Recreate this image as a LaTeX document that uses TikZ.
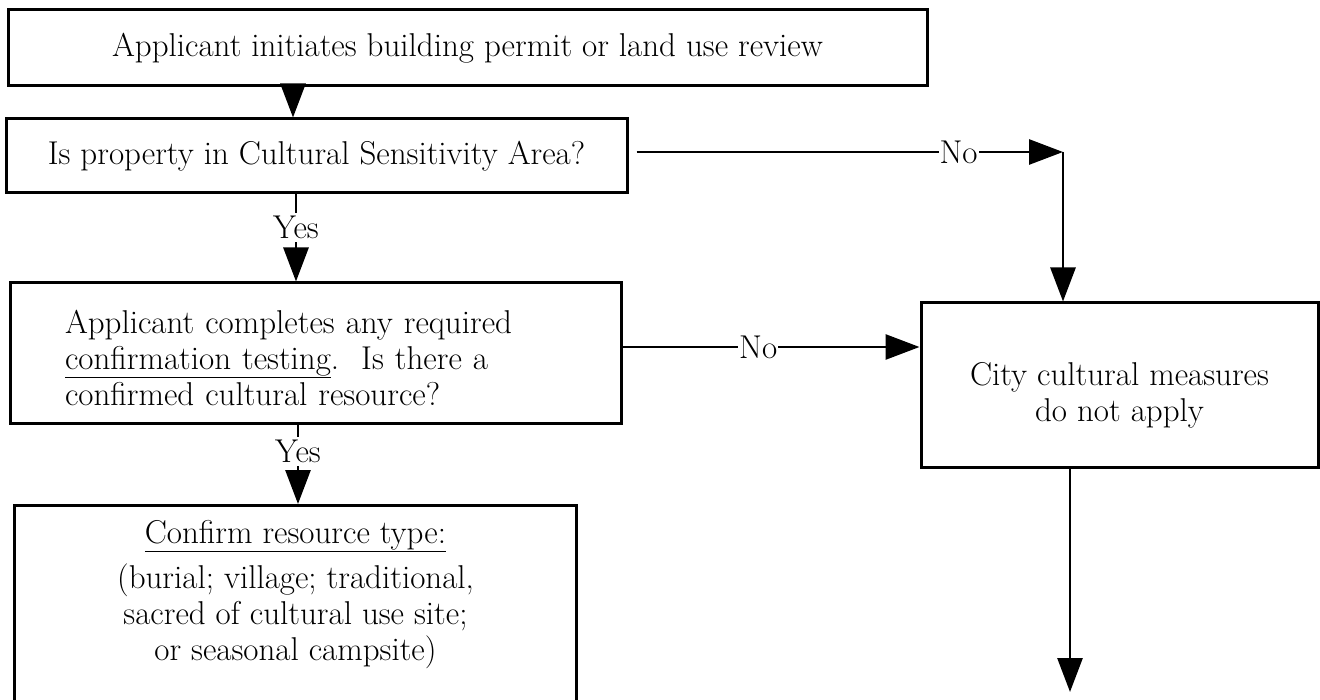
\documentclass[tikz,border=0pt]{standalone}
\usetikzlibrary{arrows.meta}
\newcommand\myfs{\fontsize{33}{36}\selectfont}
\begin{document}
\begin{tikzpicture}[x=1pt,y=1pt,
  box/.style={draw, line width=3pt, inner sep=0pt, font=\myfs},
  conn/.style={line width=2.8pt, -{Triangle[length=34pt,width=25pt]}},
  lab/.style={fill=white, inner sep=3pt, font=\myfs}]
\useasboundingbox (0,0) rectangle (1320,-700);
\clip (0,0) rectangle (1320,-700);
% boxes
\node[box, minimum width=919, minimum height=76] (b1) at (467.5,-48)
  {Applicant initiates building permit or land use review};
\node[box, minimum width=621, minimum height=74] (b2) at (316.5,-156)
  {Is property in Cultural Sensitivity Area?};
\node[box, minimum width=611, minimum height=141, text width=501, align=left, inner xsep=55pt] (b3) at (315.5,-353.5)
  {\mbox{\rule{0pt}{32pt}Applicant completes any required}\\ \mbox{\underline{confirmation testing}.\ \ Is there a}\\ \mbox{confirmed cultural resource?}};
\node[box, minimum width=397, minimum height=164, align=center] (b4) at (1119.5,-385)
  {\rule{0pt}{44pt}City cultural measures\\ do not apply};
\node[box, minimum width=562, minimum height=260, anchor=north west] (b5) at (13,-504) {};
\node[font=\myfs, align=center, anchor=north, inner sep=3pt] (t5) at ([yshift=-13pt]b5.north)
  {\underline{Confirm resource type:}\\[9pt] (burial; village; traditional,\\ sacred of cultural use site;\\ or seasonal campsite)};
% helper coordinates
\coordinate (ax) at (293,0);
\coordinate (ay) at (296,0);
\coordinate (az) at (298,0);
\coordinate (cn) at (1063,-152);
\coordinate (s2) at ([xshift=8pt]b2.east);
\coordinate (ny) at (0,-347);
\coordinate (bx) at (1070,-692);
% connectors
\draw[conn] (b1.south -| ax) -- (b2.north -| ax);
\draw[conn] (b2.south -| ay) -- node[lab, pos=0.38] {Yes} (b3.north -| ay);
\draw[conn] (s2 |- cn) -- node[lab, pos=0.755, inner sep=1pt] {No} (cn);
\draw[conn] (cn) -- (b4.north -| cn);
\draw[conn] (b3.east |- ny) -- node[lab, pos=0.457, inner sep=1pt] {No} (b4.west |- ny);
\draw[conn] (b3.south -| az) -- node[lab, pos=0.33] {Yes} (b5.north -| az);
\draw[conn] (b4.south -| bx) -- (bx);
\end{tikzpicture}
\end{document}
